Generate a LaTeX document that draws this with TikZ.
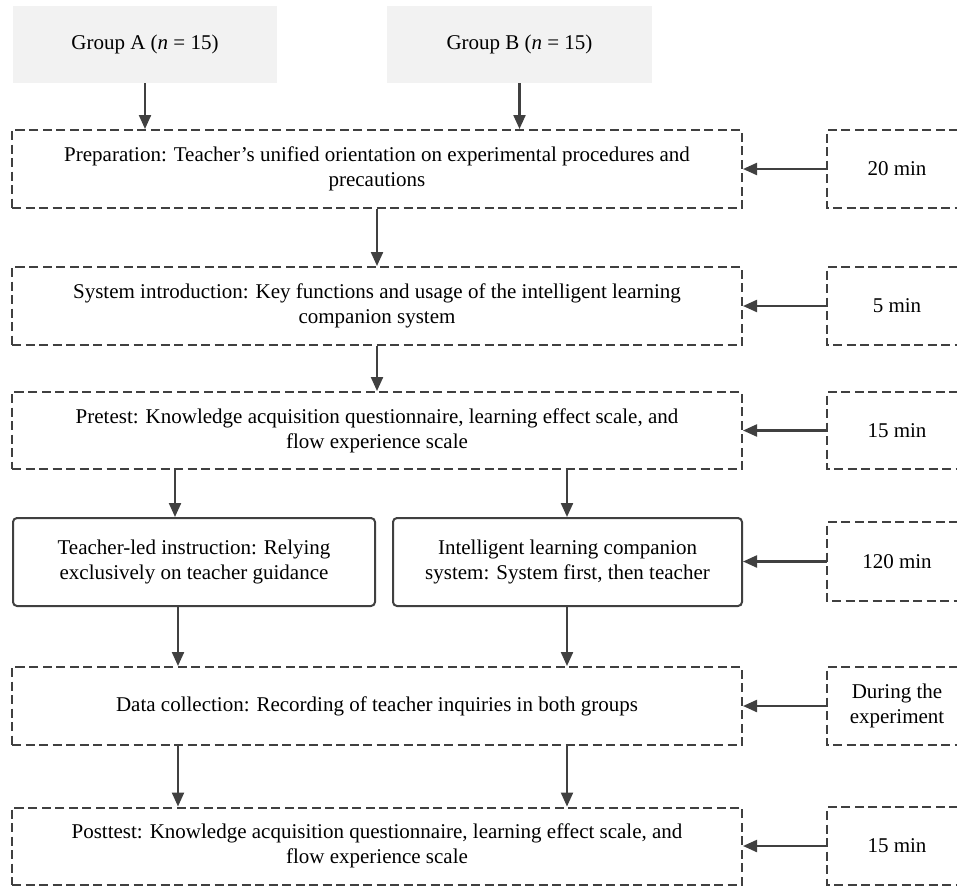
\documentclass[tikz,border=0pt]{standalone}
\usepackage{fontspec}
\setmainfont{Liberation Serif}
\usetikzlibrary{arrows.meta}
\definecolor{ln}{HTML}{404040}
\definecolor{gfill}{HTML}{F2F2F2}
\begin{document}
\begin{tikzpicture}[x=1pt,y=-1pt,
  every node/.style={font=\fontsize{21}{25}\selectfont, align=center, inner sep=0pt},
  dbox/.style={draw=ln, line width=2pt, dash pattern=on 9pt off 4.5pt},
  gbox/.style={fill=gfill},
  rbox/.style={draw=ln, line width=2pt, rounded corners=4pt},
  arr/.style={draw=ln, line width=2.2pt, -{Triangle[length=14pt,width=12pt]}},
  side/.style={draw=ln, line width=2pt, dash pattern=on 9pt off 4.5pt}]
\useasboundingbox (0,0) rectangle (957,886);
% groups
\node[gbox, minimum width=264pt, minimum height=77pt] (ga) at (145,44.5) {Group A (\textit{n} = 15)};
\node[gbox, minimum width=265pt, minimum height=77pt] (gb) at (519.5,44.5) {Group B (\textit{n} = 15)};
% main column
\node[dbox, minimum width=730pt, minimum height=78pt] (prep) at (377,169) {Preparation: Teacher’s unified orientation on experimental procedures and\\precautions};
\node[dbox, minimum width=730pt, minimum height=78pt] (sys) at (377,306) {System introduction: Key functions and usage of the intelligent learning\\companion system};
\node[dbox, minimum width=730pt, minimum height=77pt] (pre) at (377,430.5) {Pretest: Knowledge acquisition questionnaire, learning effect scale, and\\flow experience scale};
\node[rbox, minimum width=362pt, minimum height=88pt] (tl) at (194,562) {Teacher-led instruction: Relying\\exclusively on teacher guidance};
\node[rbox, minimum width=349pt, minimum height=88pt] (ilc) at (567.5,562) {Intelligent learning companion\\system: System first, then teacher};
\node[dbox, minimum width=730pt, minimum height=78pt] (data) at (377,706) {Data collection: Recording of teacher inquiries in both groups};
\node[dbox, minimum width=730pt, minimum height=77pt] (post) at (377,846) {Posttest: Knowledge acquisition questionnaire, learning effect scale, and\\flow experience scale};
% right column
\node[minimum width=140pt, minimum height=78pt] (r1) at (897,169) {20 min};
\node[minimum width=140pt, minimum height=78pt] (r2) at (897,306) {5 min};
\node[minimum width=140pt, minimum height=77pt] (r3) at (897,430.5) {15 min};
\node[minimum width=140pt, minimum height=79pt] (r4) at (897,561.5) {120 min};
\node[minimum width=140pt, minimum height=78pt] (r5) at (897,706) {During the\\experiment};
\node[minimum width=140pt, minimum height=77pt] (r6) at (897,846) {15 min};
\coordinate (edge) at (958,0);
\foreach \r in {r1,r2,r3,r4,r5,r6}{
  \draw[side] (\r.north west -| edge) -- (\r.north west) -- (\r.south west) -- (\r.south west -| edge);
}
% column x coordinates
\coordinate (xa) at (175,0);
\coordinate (xb) at (178,0);
\coordinate (xc) at (567,0);
% vertical arrows
\draw[arr] (ga.south) -- (ga.south |- prep.north);
\draw[arr] (gb.south) -- (gb.south |- prep.north);
\draw[arr] (prep.south) -- (sys.north);
\draw[arr] (sys.south) -- (pre.north);
\draw[arr] (pre.south -| xa) -- (tl.north -| xa);
\draw[arr] (pre.south -| xc) -- (ilc.north -| xc);
\draw[arr] (tl.south -| xb) -- (data.north -| xb);
\draw[arr] (ilc.south -| xc) -- (data.north -| xc);
\draw[arr] (data.south -| xb) -- (post.north -| xb);
\draw[arr] (data.south -| xc) -- (post.north -| xc);
% horizontal arrows
\draw[arr] (r1.west) -- (prep.east);
\draw[arr] (r2.west) -- (sys.east);
\draw[arr] (r3.west) -- (pre.east);
\draw[arr] (r4.west) -- (r4.west -| ilc.east);
\draw[arr] (r5.west) -- (data.east);
\draw[arr] (r6.west) -- (post.east);
\end{tikzpicture}
\end{document}
